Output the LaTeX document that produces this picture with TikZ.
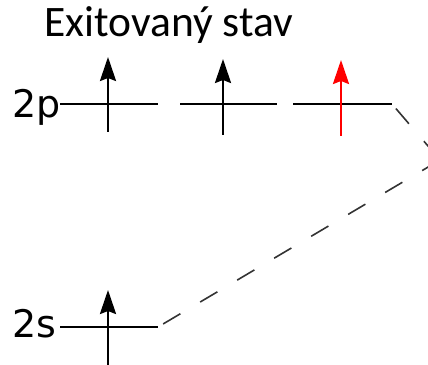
\documentclass[tikz,border=0pt]{standalone}
\usepackage{fontspec}
\setmainfont{Carlito}
\newfontfamily\lblfont{DejaVu Sans}
\usetikzlibrary{arrows.meta}

\tikzset{
  level/.style={line width=2pt},
  spin/.style={line width=2.5pt,-{Stealth[length=24pt,width=16pt,inset=3pt]}},
  trans/.style={dash pattern=on 20pt off 23pt, line width=1.6pt, black!80, shorten <=6pt},
  orblbl/.style={anchor=base east, inner sep=0pt, font=\lblfont\fontsize{38}{44}\selectfont},
}

\begin{document}
\begin{tikzpicture}[x=1pt,y=1pt]
\useasboundingbox (0,0) rectangle (428,364);
\clip (0,0) rectangle (428,364);
% nadpis
\node[anchor=base, inner sep=0pt, font=\fontsize{43.5}{50}\selectfont] (title) at (169,327) {Exitovaný stav};
% hladiny 2p
\coordinate (p1a) at (60,260);  \coordinate (p1b) at (158,260);
\coordinate (p2a) at (180,260); \coordinate (p2b) at (277,260);
\coordinate (p3a) at (293,260); \coordinate (p3b) at (392,260);
\draw[level] (p1a) -- (p1b);
\draw[level] (p2a) -- (p2b);
\draw[level] (p3a) -- (p3b);
% hladina 2s
\coordinate (s0a) at (60,37); \coordinate (s0b) at (158,37);
\draw[level] (s0a) -- (s0b);
% popisky
\node[orblbl] (lbl2p) at (61,246) {2p};
\node[orblbl] (lbl2s) at (57,27) {2s};
% elektrony
\coordinate (e1a) at (108,232); \coordinate (e1b) at (108,307);
\coordinate (e2a) at (223,229); \coordinate (e2b) at (223,305);
\coordinate (e3a) at (341,228); \coordinate (e3b) at (341,304);
\coordinate (e0a) at (108,-5);  \coordinate (e0b) at (108,74);
\draw[spin] (e1a) -- (e1b);
\draw[spin] (e2a) -- (e2b);
\draw[spin, red] (e3a) -- (e3b);
\draw[spin] (e0a) -- (e0b);
% prechod
\coordinate (hyb) at (440,204);
\draw[trans] (p3b) -- (hyb);
\draw[trans] (s0b) -- (hyb);
\end{tikzpicture}
\end{document}
